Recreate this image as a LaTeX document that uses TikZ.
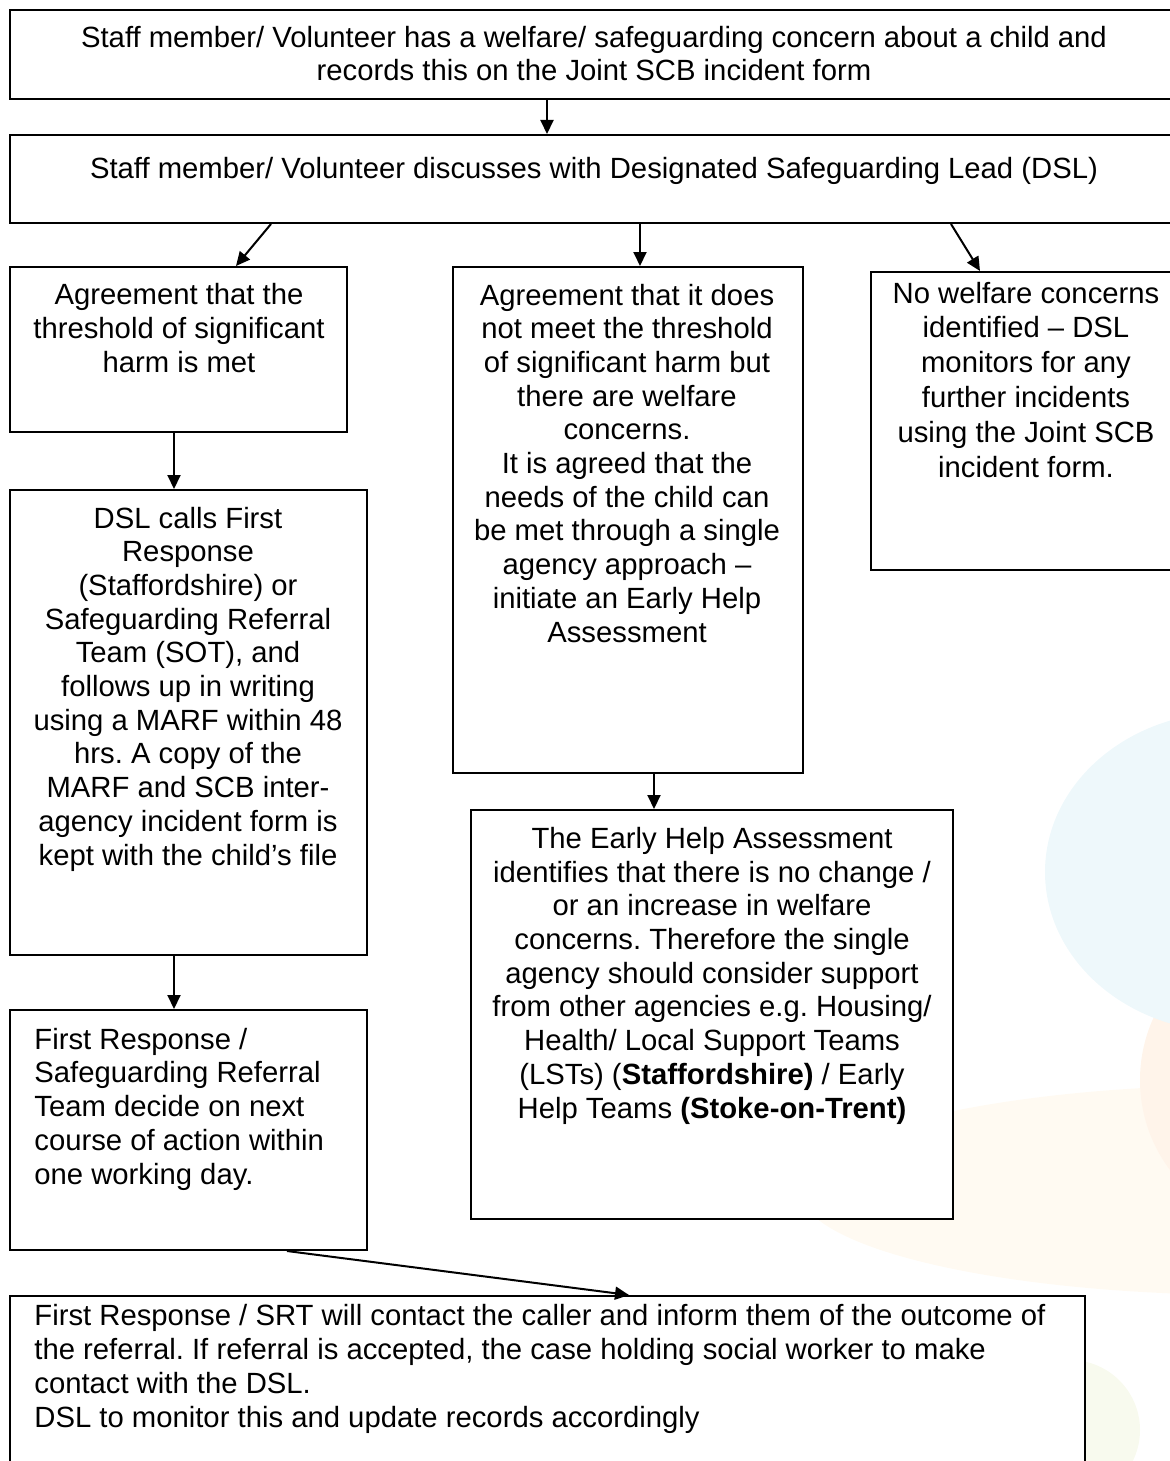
\documentclass[tikz,border=0pt]{standalone}
\usepackage{fontspec}
\setmainfont{Liberation Sans}
\usetikzlibrary{arrows.meta,fit,calc}
\definecolor{bgblue}{HTML}{EEF8FB}
\definecolor{bgpeach}{HTML}{FFFAF2}
\definecolor{bgorange}{HTML}{FFF4EA}
\definecolor{bggreen}{HTML}{F8FAEE}
\begin{document}
\begin{tikzpicture}[x=0.5pt,y=-0.5pt,
  box/.style={draw=black,line width=1pt,fill=white,inner sep=0pt,rectangle},
  txt/.style={font=\fontsize{14.63pt}{16.85pt}\selectfont\frenchspacing,inner sep=0pt,align=center},
  ltxt/.style={font=\fontsize{14.63pt}{16.85pt}\selectfont\frenchspacing,inner sep=0pt,align=left},
  arr/.style={line width=1pt,-{Triangle[length=7pt,width=6.5pt]}}]
\useasboundingbox (0,0) rectangle (1169,1461);
% faint background shapes
\fill[bgpeach] (1250,1190) ellipse [x radius=450, y radius=105];
\fill[bgorange] (1290,1080) circle [radius=150];
\fill[bgblue] (1230,872) ellipse [x radius=185, y radius=160];
\fill[bggreen] (1070,1430) circle [radius=70];
% boxes
\node[box,fit={(10,10) (1178,99)}] (b1) {};
\node[box,fit={(10,135) (1178,223)}] (b2) {};
\node[box,fit={(10,267) (347,432)}] (bA) {};
\node[box,fit={(453,267) (803,773)}] (bB) {};
\node[box,fit={(871,272) (1181,570)}] (bC) {};
\node[box,fit={(10,490) (367,955)}] (bD) {};
\node[box,fit={(10,1010) (367,1250)}] (bE) {};
\node[box,fit={(471,810) (953,1219)}] (bF) {};
\node[box,fit={(10,1296) (1085,1480)}] (bG) {};
% texts (base anchor = baseline of the last line)
\node[txt,anchor=base] (t1) at (594,81) {Staff member/ Volunteer has a welfare/ safeguarding concern about a child and\\records this on the Joint SCB incident form};
\node[txt,anchor=base] (t2) at (594,178) {Staff member/ Volunteer discusses with Designated Safeguarding Lead (DSL)};
\node[txt,anchor=base] (tA) at (179,372) {Agreement that the\\threshold of significant\\harm is met};
\node[txt,anchor=base] (tB) at (627,642) {Agreement that it does\\not meet the threshold\\of significant harm but\\there are welfare\\concerns.\\It is agreed that the\\needs of the child can\\be met through a single\\agency approach --\\initiate an Early Help\\Assessment};
\node[txt,anchor=base,font=\fontsize{14.63pt}{17.4pt}\selectfont\frenchspacing] (tC) at (1026,477) {No welfare concerns\\identified -- DSL\\monitors for any\\further incidents\\using the Joint SCB\\incident form.};
\node[txt,anchor=base] (tD) at (188,865) {DSL calls First\\Response\\(Staffordshire) or\\Safeguarding Referral\\Team (SOT), and\\follows up in writing\\using a MARF within 48\\hrs. A copy of the\\MARF and SCB inter-\\agency incident form is\\kept with the child’s file};
\node[ltxt,anchor=base west] (tE) at (34,1184) {First Response /\\Safeguarding Referral\\Team decide on next\\course of action within\\one working day.};
\node[txt,anchor=base] (tF) at (712,1118) {The Early Help Assessment\\identifies that there is no change /\\or an increase in welfare\\concerns. Therefore the single\\agency should consider support\\from other agencies e.g. Housing/\\Health/ Local Support Teams\\(LSTs) (\textbf{Staffordshire)} / Early\\Help Teams \textbf{(Stoke-on-Trent)}};
\node[ltxt,anchor=base west] (tG) at (34,1427) {First Response / SRT will contact the caller and inform them of the outcome of\\the referral. If referral is accepted, the case holding social worker to make\\contact with the DSL.\\DSL to monitor this and update records accordingly};
% connectors
\draw[arr] ($(b1.south west)+(538,0)$) -- ($(b2.north west)+(538,0)$);
\draw[arr] ($(b2.south west)+(262,0)$) -- ($(bA.north west)+(227,0)$);
\draw[arr] ($(b2.south west)+(631,0)$) -- ($(bB.north west)+(188,0)$);
\draw[arr] ($(b2.south west)+(942,0)$) -- ($(bC.north west)+(110,0)$);
\draw[arr] ($(bA.south west)+(165,0)$) -- ($(bD.north west)+(165,0)$);
\draw[arr] ($(bD.south west)+(165,0)$) -- ($(bE.north west)+(165,0)$);
\draw[arr] ($(bB.south west)+(202,0)$) -- ($(bF.north west)+(184,0)$);
\draw[arr] ($(bE.south west)+(278,0)$) -- ($(bG.north west)+(620,0)$);
\end{tikzpicture}
\end{document}
